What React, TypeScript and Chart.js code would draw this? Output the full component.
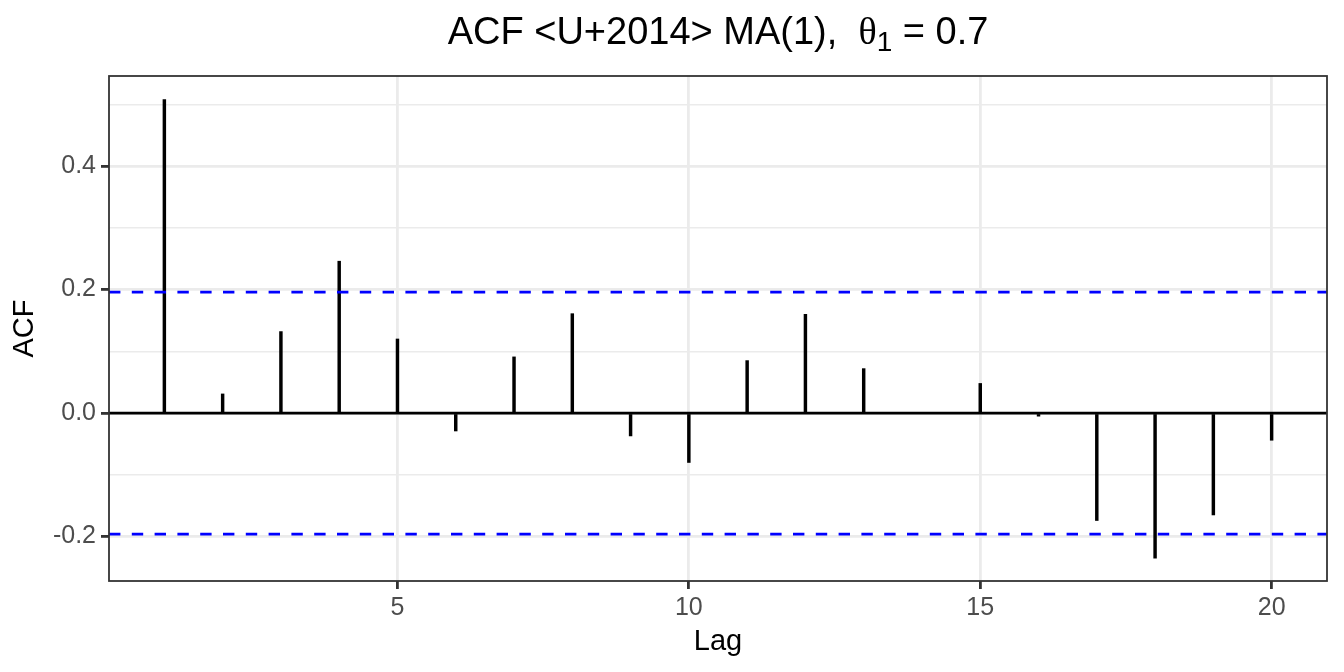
import React, { useEffect, useRef } from "react";
import { Chart, registerables } from "chart.js";

Chart.register(...registerables);

// ---- data ----
const LAGS = [1, 2, 3, 4, 5, 6, 7, 8, 9, 10, 11, 12, 13, 14, 15, 16, 17, 18, 19, 20];
const ACF_VALUES = [
  0.508, 0.031, 0.132, 0.246, 0.12, -0.029, 0.091, 0.161, -0.037, -0.08,
  0.085, 0.16, 0.072, 0.0, 0.048, -0.005, -0.174, -0.235, -0.165, -0.044,
];
const CI_BOUND = 0.196;
const X_RANGE = [0.05, 20.95];
const Y_RANGE = [-0.272, 0.546];
const X_STEP = 5;
const Y_STEP = 0.1;

const TITLE_HEAD = "ACF <U+2014> MA(1),  ";
const TITLE_THETA = "θ";
const TITLE_SUB = "1";
const TITLE_TAIL = " = 0.7";
const X_LABEL = "Lag";
const Y_LABEL = "ACF";

const SANS = '"Liberation Sans", Arial, Helvetica, sans-serif';

const isMajorY = (v: number) => Math.abs(Math.round(v * 10)) % 2 === 0;

const panelBox = {
  id: "panelBox",
  afterDatasetsDraw(chart: any) {
    const { ctx, chartArea } = chart;
    ctx.save();
    ctx.strokeStyle = "#333333";
    ctx.lineWidth = 1.8;
    ctx.strokeRect(chartArea.left, chartArea.top, chartArea.right - chartArea.left, chartArea.bottom - chartArea.top);
    ctx.restore();
  },
};

const mathTitle = {
  id: "mathTitle",
  afterDraw(chart: any) {
    const { ctx, chartArea } = chart;
    const mainFont = `38px ${SANS}`;
    const thetaFont = `38px "Liberation Serif", "Times New Roman", serif`;
    const subFont = `28px ${SANS}`;
    ctx.save();
    ctx.fillStyle = "#000000";
    ctx.textBaseline = "alphabetic";
    ctx.textAlign = "left";
    ctx.font = mainFont;
    const w1 = ctx.measureText(TITLE_HEAD).width;
    const w4 = ctx.measureText(TITLE_TAIL).width;
    ctx.font = thetaFont;
    const w2 = ctx.measureText(TITLE_THETA).width;
    ctx.font = subFont;
    const w3 = ctx.measureText(TITLE_SUB).width;
    const total = w1 + w2 + w3 + w4;
    const cx = (chartArea.left + chartArea.right) / 2;
    let x = cx - total / 2;
    const baseY = 44;
    ctx.font = mainFont;
    ctx.fillText(TITLE_HEAD, x, baseY);
    x += w1;
    ctx.font = thetaFont;
    ctx.fillText(TITLE_THETA, x, baseY);
    x += w2;
    ctx.font = subFont;
    ctx.fillText(TITLE_SUB, x, baseY + 7);
    x += w3;
    ctx.font = mainFont;
    ctx.fillText(TITLE_TAIL, x, baseY);
    ctx.restore();
  },
};

export default function App() {
  const canvasRef = useRef<HTMLCanvasElement | null>(null);

  useEffect(() => {
    const canvas = canvasRef.current;
    if (!canvas) return;
    const spikes = LAGS.map((lag, i) => ({ x: lag, y: ACF_VALUES[i] }));
    const span = (v: number) => [
      { x: X_RANGE[0], y: v },
      { x: X_RANGE[1], y: v },
    ];

    const chart = new Chart(canvas, {
      type: "bar",
      data: {
        datasets: [
          {
            type: "line",
            data: span(0),
            borderColor: "#000000",
            borderWidth: 2.8,
            pointRadius: 0,
            order: 3,
          } as any,
          {
            type: "bar",
            data: spikes,
            backgroundColor: "#000000",
            borderWidth: 0,
            barThickness: 2.8,
            order: 2,
          } as any,
          {
            type: "line",
            data: span(CI_BOUND),
            borderColor: "#0000FF",
            borderWidth: 2.8,
            borderDash: [11.4, 11.4],
            pointRadius: 0,
            order: 1,
          } as any,
          {
            type: "line",
            data: span(-CI_BOUND),
            borderColor: "#0000FF",
            borderWidth: 2.8,
            borderDash: [11.4, 11.4],
            pointRadius: 0,
            order: 1,
          } as any,
        ],
      },
      options: {
        responsive: false,
        animation: false,
        layout: { padding: { left: 0, right: 17, top: 76, bottom: 0 } },
        plugins: {
          legend: { display: false },
          title: { display: false },
          tooltip: { enabled: false },
        },
        scales: {
          x: {
            type: "linear",
            min: X_RANGE[0],
            max: X_RANGE[1],
            offset: false,
            afterFit: (s: any) => {
              s.height = 91;
            },
            ticks: {
              stepSize: X_STEP,
              includeBounds: false,
              autoSkip: false,
              maxRotation: 0,
              padding: 4,
              color: "#4D4D4D",
              font: { family: SANS, size: 25 },
              callback: (v: any) => String(v),
            },
            grid: {
              offset: false,
              color: "#EBEBEB",
              lineWidth: 2.8,
              tickLength: 8,
              tickColor: "#333333",
              tickWidth: 2.8,
            },
            border: { display: false },
            title: {
              display: true,
              text: X_LABEL,
              color: "#000000",
              font: { family: SANS, size: 29 },
              padding: { top: 0, bottom: 13 },
            },
          } as any,
          y: {
            type: "linear",
            min: Y_RANGE[0],
            max: Y_RANGE[1],
            afterFit: (s: any) => {
              s.width = 109;
            },
            ticks: {
              stepSize: Y_STEP,
              includeBounds: false,
              autoSkip: false,
              padding: 5,
              color: "#4D4D4D",
              font: { family: SANS, size: 25 },
              callback: (v: any) => (isMajorY(Number(v)) ? Number(v).toFixed(1) : ""),
            },
            grid: {
              offset: false,
              color: "#EBEBEB",
              lineWidth: (c: any) => (isMajorY(c.tick ? c.tick.value : 0) ? 2.8 : 1.4),
              tickLength: 8,
              tickColor: (c: any) => (isMajorY(c.tick ? c.tick.value : 0) ? "#333333" : "rgba(0,0,0,0)"),
              tickWidth: 2.8,
            },
            border: { display: false },
            title: {
              display: true,
              text: Y_LABEL,
              color: "#000000",
              font: { family: SANS, size: 29 },
              padding: { top: 8, bottom: 0 },
            },
          } as any,
        },
      } as any,
      plugins: [panelBox, mathTitle],
    });
    return () => chart.destroy();
  }, []);

  return (
    <div style={{ position: "fixed", left: 0, top: 0, width: 1344, height: 672, background: "#FFFFFF" }}>
      <canvas ref={canvasRef} width={1344} height={672} style={{ display: "block" }} />
    </div>
  );
}
